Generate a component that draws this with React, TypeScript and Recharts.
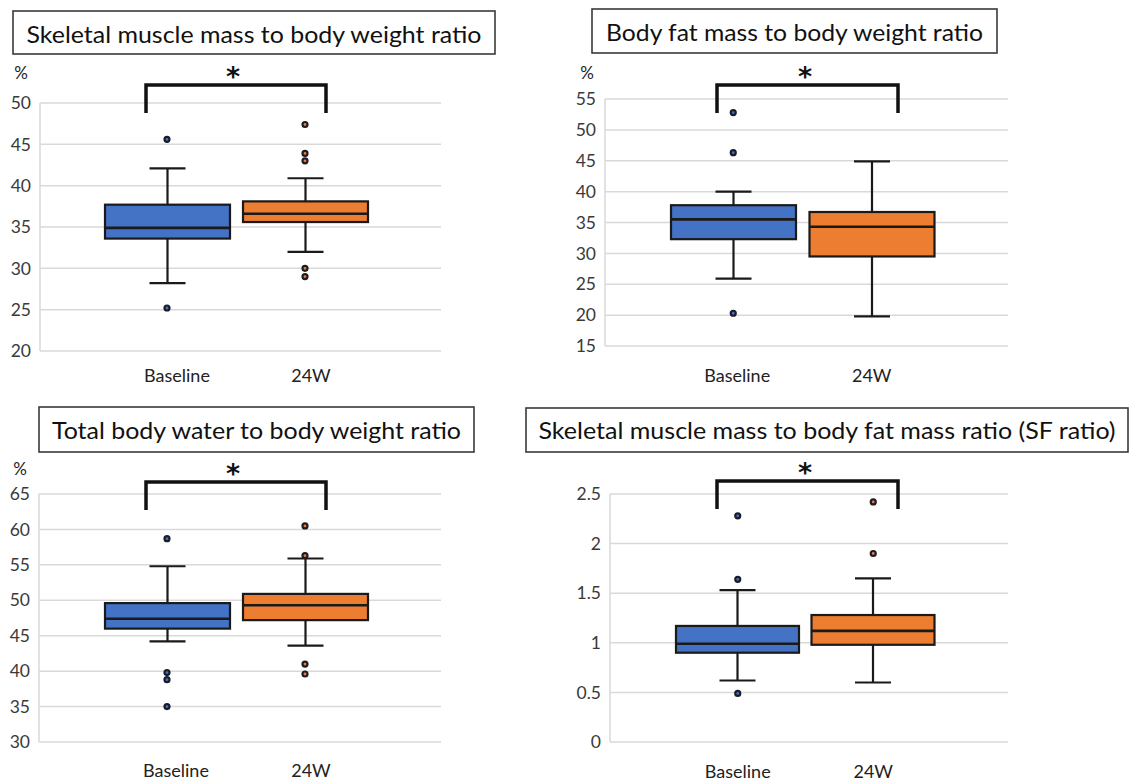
import { Bar, CartesianGrid, ComposedChart, Scatter, XAxis, YAxis } from 'recharts';

const FONT = "Lato, 'Open Sans', sans-serif";
const INK = '#1a1a1a';
const GRID = '#d9d9d9';
const COLORS = ['#4472C4', '#ED7D31'];
const CAP = 18;

const CATEGORIES = ['Baseline', '24W'];

// box rows are [lower whisker, Q1, median, Q3, upper whisker]
const SMM_BW_BOX = [
  [28.2, 33.6, 34.9, 37.7, 42.1],
  [32.0, 35.6, 36.6, 38.1, 40.9],
];
const SMM_BW_OUTLIERS = [
  [45.6, 25.2],
  [47.4, 43.9, 43.0, 30.0, 29.0],
];
const SMM_BW_TICKS = [20, 25, 30, 35, 40, 45, 50];

const BFM_BW_BOX = [
  [25.9, 32.3, 35.5, 37.8, 40.0],
  [19.8, 29.5, 34.3, 36.7, 44.9],
];
const BFM_BW_OUTLIERS = [[52.8, 46.3, 20.3], []];
const BFM_BW_TICKS = [15, 20, 25, 30, 35, 40, 45, 50, 55];

const TBW_BW_BOX = [
  [44.2, 46.0, 47.4, 49.6, 54.8],
  [43.6, 47.2, 49.3, 50.9, 55.9],
];
const TBW_BW_OUTLIERS = [
  [58.7, 39.8, 38.8, 35.0],
  [60.5, 56.3, 41.0, 39.6],
];
const TBW_BW_TICKS = [30, 35, 40, 45, 50, 55, 60, 65];

const SF_BOX = [
  [0.62, 0.9, 0.99, 1.17, 1.53],
  [0.6, 0.98, 1.12, 1.28, 1.65],
];
const SF_OUTLIERS = [[2.28, 1.64, 0.49], [2.42, 1.9]];
const SF_TICKS = [0, 0.5, 1, 1.5, 2, 2.5];

type Row = { cat: string; lo: number; q1: number; med: number; q3: number; hi: number; out: number[] };

const buildRows = (boxes: number[][], outliers: number[][]): Row[] =>
  CATEGORIES.map((cat, i) => {
    const [lo, q1, med, q3, hi] = boxes[i];
    return { cat, lo, q1, med, q3, hi, out: outliers[i] };
  });

// the bar spans the whiskers; everything inside is placed with the bar's own y mapping
const BoxShape = (props: any) => {
  const { x, y, width, height, payload } = props;
  const r = payload as Row;
  if (!(height > 0)) return <g />;
  const k = height / (r.hi - r.lo);
  const py = (v: number) => y + (r.hi - v) * k;
  const cx = x + width / 2;
  const fill = COLORS[CATEGORIES.indexOf(r.cat)];
  return (
    <g stroke={INK} strokeWidth={2.2} fill="none">
      <line x1={cx} x2={cx} y1={py(r.hi)} y2={py(r.q3)} />
      <line x1={cx} x2={cx} y1={py(r.q1)} y2={py(r.lo)} />
      <line x1={cx - CAP} x2={cx + CAP} y1={py(r.hi)} y2={py(r.hi)} />
      <line x1={cx - CAP} x2={cx + CAP} y1={py(r.lo)} y2={py(r.lo)} />
      <rect x={x} y={py(r.q3)} width={width} height={py(r.q1) - py(r.q3)} fill={fill} />
      <line x1={x} x2={x + width} y1={py(r.med)} y2={py(r.med)} strokeWidth={2.6} />
    </g>
  );
};

const OutlierDot = (props: any) => {
  const { cx, cy, payload } = props;
  if (cx == null || cy == null || Number.isNaN(cy)) return <g />;
  const fill = COLORS[CATEGORIES.indexOf((payload as Row).cat)];
  return <circle cx={cx} cy={cy} r={2.5} fill={fill} stroke="#1c1c28" strokeWidth={2.2} />;
};

type PanelLayout = {
  left: number;
  top: number;
  width: number;
  height: number;
  margin: { top: number; right: number; bottom: number; left: number };
  yAxisWidth: number;
  padding: { left: number; right: number };
  barSize: number;
  labelGap: number;
  labelShift: number[];
};

const BoxPanel = ({ rows, ticks, layout }: { rows: Row[]; ticks: number[]; layout: PanelLayout }) => {
  const maxOut = Math.max(...rows.map((r) => r.out.length));
  const renderTick = (p: any) => {
    const i = CATEGORIES.indexOf(p.payload.value);
    return (
      <text x={p.x + layout.labelShift[i]} y={p.y + 13} textAnchor="middle" fontSize={18} fontFamily={FONT} fill="#222">
        {p.payload.value}
      </text>
    );
  };
  return (
    <div style={{ position: 'absolute', left: layout.left, top: layout.top }}>
      <ComposedChart width={layout.width} height={layout.height} data={rows} margin={layout.margin}>
        <CartesianGrid vertical={false} stroke={GRID} strokeWidth={1.5} />
        <XAxis
          dataKey="cat"
          type="category"
          padding={layout.padding}
          axisLine={false}
          tickLine={false}
          tickSize={0}
          tickMargin={layout.labelGap}
          height={30}
          interval={0}
          tick={renderTick}
        />
        <YAxis
          type="number"
          domain={[ticks[0], ticks[ticks.length - 1]]}
          ticks={ticks}
          interval={0}
          width={layout.yAxisWidth}
          axisLine={{ stroke: GRID, strokeWidth: 1.5 }}
          tickLine={false}
          tickSize={0}
          tickMargin={9}
          tick={{ fill: '#3a3a3a', fontSize: 17.5, fontFamily: FONT }}
        />
        <Bar dataKey={(r: Row) => [r.lo, r.hi]} barSize={layout.barSize} shape={BoxShape} isAnimationActive={false} />
        {Array.from({ length: maxOut }, (_, k) => (
          <Scatter key={k} dataKey={(r: Row) => r.out[k]} shape={OutlierDot} isAnimationActive={false} />
        ))}
      </ComposedChart>
    </div>
  );
};

const LAYOUTS: PanelLayout[] = [
  {
    left: 0, top: 0, width: 460, height: 400,
    margin: { top: 103, right: 19, bottom: 19, left: 0 },
    yAxisWidth: 40, padding: { left: 58, right: 67 }, barSize: 125, labelGap: 18, labelShift: [10, 6],
  },
  {
    left: 560, top: 0, width: 460, height: 400,
    margin: { top: 99, right: 12, bottom: 24, left: 0 },
    yAxisWidth: 45, padding: { left: 59, right: 67 }, barSize: 125, labelGap: 23, labelShift: [4, 0],
  },
  {
    left: 0, top: 400, width: 460, height: 381,
    margin: { top: 94, right: 19, bottom: 9, left: 0 },
    yAxisWidth: 39, padding: { left: 59, right: 67 }, barSize: 125, labelGap: 22, labelShift: [9, 6],
  },
  {
    left: 560, top: 400, width: 460, height: 381,
    margin: { top: 94, right: 12, bottom: 9, left: 0 },
    yAxisWidth: 50, padding: { left: 60, right: 67 }, barSize: 123, labelGap: 23, labelShift: [0, 0],
  },
];

const TITLES = [
  { text: 'Skeletal muscle mass to body weight ratio', x: 13, y: 11, w: 482, h: 43, base: 42.5, len: 455 },
  { text: 'Body fat mass to body weight ratio', x: 592, y: 9, w: 405, h: 44, base: 40.5, len: 377 },
  { text: 'Total body water to body weight ratio', x: 39, y: 407, w: 435, h: 45, base: 438.5, len: 409 },
  { text: 'Skeletal muscle mass to body fat mass ratio (SF ratio)', x: 526, y: 408, w: 602, h: 44, base: 439, len: 577 },
];

const BRACKETS = [
  { x1: 146, x2: 326, top: 85, bottom: 113, star: 233 },
  { x1: 717, x2: 898, top: 85, bottom: 113, star: 805 },
  { x1: 146, x2: 326, top: 482, bottom: 510, star: 233 },
  { x1: 717, x2: 898, top: 481, bottom: 509, star: 805 },
];

const UNITS = [
  { x: 21, y: 79 },
  { x: 587, y: 78.5 },
  { x: 20, y: 475 },
];

const Annotations = () => (
  <svg width={1131} height={781} style={{ position: 'absolute', left: 0, top: 0, pointerEvents: 'none' }}>
    {TITLES.map((t) => (
      <g key={t.text}>
        <rect x={t.x} y={t.y} width={t.w} height={t.h} fill="#fff" stroke="#3a3a3a" strokeWidth={1.6} />
        <text
          x={t.x + t.w / 2}
          y={t.base}
          textAnchor="middle"
          fontSize={23}
          fontFamily={FONT}
          fill="#111"
          textLength={t.len}
          lengthAdjust="spacingAndGlyphs"
        >
          {t.text}
        </text>
      </g>
    ))}
    {BRACKETS.map((b, i) => (
      <g key={i}>
        <path
          d={`M${b.x1},${b.bottom} V${b.top} H${b.x2} V${b.bottom}`}
          fill="none"
          stroke="#111"
          strokeWidth={3.5}
        />
        <text
          x={b.star}
          y={b.top + 1}
          textAnchor="middle"
          fontSize={27}
          fontWeight={700}
          fontFamily="'DejaVu Sans', sans-serif"
          fill="#111"
        >
          *
        </text>
      </g>
    ))}
    {UNITS.map((u, i) => (
      <text key={i} x={u.x} y={u.y} textAnchor="middle" fontSize={17} fontFamily={FONT} fill="#222">
        %
      </text>
    ))}
  </svg>
);

export default function App() {
  return (
    <div style={{ position: 'absolute', left: 0, top: 0, width: 1131, height: 781, background: '#fff', overflow: 'hidden' }}>
      <BoxPanel rows={buildRows(SMM_BW_BOX, SMM_BW_OUTLIERS)} ticks={SMM_BW_TICKS} layout={LAYOUTS[0]} />
      <BoxPanel rows={buildRows(BFM_BW_BOX, BFM_BW_OUTLIERS)} ticks={BFM_BW_TICKS} layout={LAYOUTS[1]} />
      <BoxPanel rows={buildRows(TBW_BW_BOX, TBW_BW_OUTLIERS)} ticks={TBW_BW_TICKS} layout={LAYOUTS[2]} />
      <BoxPanel rows={buildRows(SF_BOX, SF_OUTLIERS)} ticks={SF_TICKS} layout={LAYOUTS[3]} />
      <Annotations />
    </div>
  );
}
